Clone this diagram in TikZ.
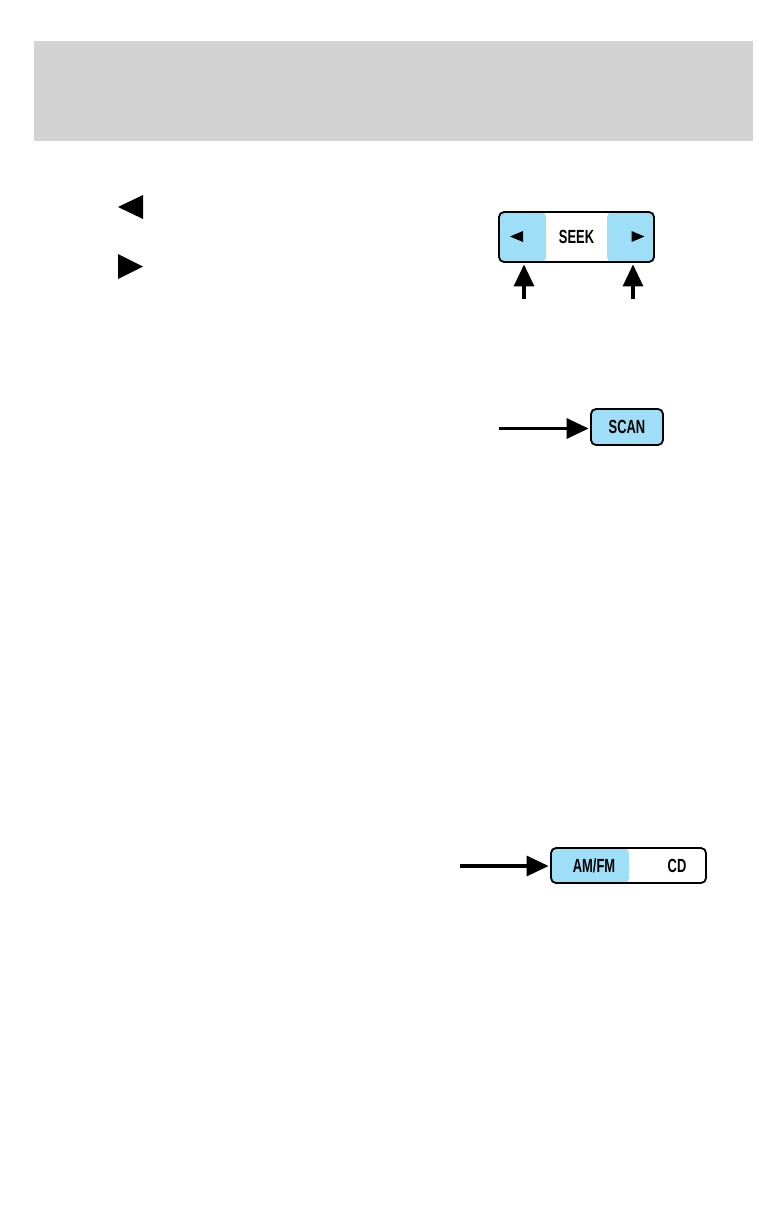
\documentclass[tikz,border=0pt]{standalone}
\usepackage{fontspec}
\setmainfont{Liberation Sans}[FakeStretch=0.68]
\usetikzlibrary{arrows.meta, positioning}
\definecolor{headergray}{RGB}{211, 211, 211}
\definecolor{buttonblue}{RGB}{158, 222, 246}

\begin{document}
\begin{tikzpicture}[x=1pt, y=-1pt,
    btn/.style={rectangle, rounded corners=5pt, draw=black, line width=1.8pt, fill=#1, inner sep=0pt, font=\fontsize{19}{19}\selectfont\bfseries},
    lbl/.style={inner sep=0pt, font=\fontsize{19}{19}\selectfont\bfseries},
    ptr/.style={-{Triangle[length=22pt, width=20pt]}, line width=3.2pt, shorten >=1.5pt},
    leftblue/.style={path picture={\fill[buttonblue] (path picture bounding box.north west) rectangle ([xshift=#1]path picture bounding box.south west);}},
    bothblue/.style={path picture={
        \fill[buttonblue] (path picture bounding box.north west) rectangle ([xshift=#1]path picture bounding box.south west);
        \fill[buttonblue] ([xshift=-#1]path picture bounding box.north east) rectangle (path picture bounding box.south east);}}
]
\useasboundingbox (0,0) rectangle (774,1208);

% Header band
\fill[headergray] (34,41) rectangle (753,141);

% Seek symbols in the text column
\coordinate (symL) at (130.5,207);
\coordinate (symR) at (130.5,266.5);
\fill (symL) ++(-12.5,0) -- ++(25,-12) -- ++(0,24) -- cycle;
\fill (symR) ++(12.5,0) -- ++(-25,-12.5) -- ++(0,25) -- cycle;

% Seek button
\node[btn=white, bothblue=47pt, minimum width=155pt, minimum height=50pt] (seek) at (576.5,237) {SEEK};
\coordinate (seekL) at (516.5,236.5);
\coordinate (seekR) at (638,236.5);
\fill (seekL) ++(-6.5,0) -- ++(13,-5.5) -- ++(0,11) -- cycle;
\fill (seekR) ++(6.5,0) -- ++(-13,-5.5) -- ++(0,11) -- cycle;
\coordinate (seekLtail) at (524,299);
\coordinate (seekRtail) at (633,299);
\draw[ptr] (seekLtail) -- (seekLtail |- seek.south);
\draw[ptr] (seekRtail) -- (seekRtail |- seek.south);

% Scan button
\node[btn=buttonblue, minimum width=72pt, minimum height=36pt] (scan) at (627,427) {SCAN};
\coordinate (scantail) at (499,428.5);
\draw[ptr] (scantail) -- (scantail -| scan.west);

% Band button
\node[btn=white, leftblue=78pt, minimum width=155pt, minimum height=35pt] (band) at (628.5,865.5) {};
\node[lbl] (amfm) at (594,866) {AM/FM};
\node[lbl] (cd) at (677,866) {CD};
\coordinate (bandtail) at (460,866);
\draw[ptr] (bandtail) -- (bandtail -| band.west);

\end{tikzpicture}
\end{document}
